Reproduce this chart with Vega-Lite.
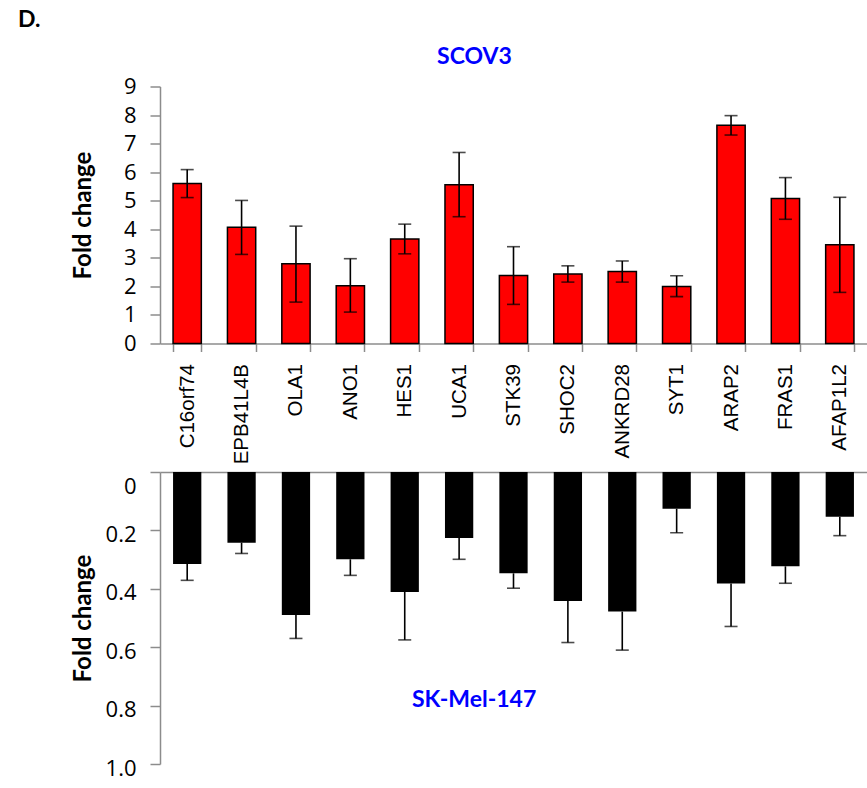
{
  "$schema": "https://vega.github.io/schema/vega-lite/v6.json",
  "background": "white",
  "padding": {"left": 18, "top": 8.5, "right": 0, "bottom": 0},
  "title": {"text": "D.", "anchor": "start", "frame": "bounds", "fontSize": 23, "font": "Lato", "fontWeight": "bold", "color": "black", "dx": -53, "offset": 14},
  "config": {"view": {"stroke": null}, "axis": {"grid": false, "domainColor": "#8c8c8c", "tickColor": "#8c8c8c", "domainWidth": 1.5, "tickWidth": 1.5}},
  "data": {"values": [
    {"gene": "C16orf74", "scov3": 5.60, "scov3_lo": 5.11, "scov3_hi": 6.09, "skmel": 0.315, "skmel_hi": 0.371},
    {"gene": "EPB41L4B", "scov3": 4.07, "scov3_lo": 3.12, "scov3_hi": 5.01, "skmel": 0.242, "skmel_hi": 0.279},
    {"gene": "OLA1", "scov3": 2.79, "scov3_lo": 1.45, "scov3_hi": 4.11, "skmel": 0.490, "skmel_hi": 0.570},
    {"gene": "ANO1", "scov3": 2.02, "scov3_lo": 1.10, "scov3_hi": 2.97, "skmel": 0.299, "skmel_hi": 0.354},
    {"gene": "HES1", "scov3": 3.66, "scov3_lo": 3.14, "scov3_hi": 4.18, "skmel": 0.411, "skmel_hi": 0.575},
    {"gene": "UCA1", "scov3": 5.56, "scov3_lo": 4.44, "scov3_hi": 6.69, "skmel": 0.226, "skmel_hi": 0.299},
    {"gene": "STK39", "scov3": 2.38, "scov3_lo": 1.37, "scov3_hi": 3.39, "skmel": 0.347, "skmel_hi": 0.398},
    {"gene": "SHOC2", "scov3": 2.43, "scov3_lo": 2.15, "scov3_hi": 2.72, "skmel": 0.442, "skmel_hi": 0.584},
    {"gene": "ANKRD28", "scov3": 2.52, "scov3_lo": 2.15, "scov3_hi": 2.89, "skmel": 0.478, "skmel_hi": 0.610},
    {"gene": "SYT1", "scov3": 2.00, "scov3_lo": 1.64, "scov3_hi": 2.37, "skmel": 0.126, "skmel_hi": 0.208},
    {"gene": "ARAP2", "scov3": 7.64, "scov3_lo": 7.30, "scov3_hi": 7.98, "skmel": 0.382, "skmel_hi": 0.529},
    {"gene": "FRAS1", "scov3": 5.08, "scov3_lo": 4.35, "scov3_hi": 5.81, "skmel": 0.323, "skmel_hi": 0.381},
    {"gene": "AFAP1L2", "scov3": 3.46, "scov3_lo": 1.79, "scov3_hi": 5.12, "skmel": 0.153, "skmel_hi": 0.218}
  ]},
  "spacing": 6.5,
  "vconcat": [
    {
      "width": 707,
      "height": 257,
      "title": {"text": "SCOV3", "color": "#0000ff", "font": "Lato", "fontSize": 23, "fontWeight": "bold", "dx": -39, "offset": 6.5},
      "encoding": {
        "x": {"field": "gene", "type": "nominal", "sort": null, "title": null,
          "scale": {"paddingInner": 0.48, "paddingOuter": 0.24},
          "axis": {"labelAngle": -90, "labelFont": "Liberation Sans", "labelFontSize": 20.5, "labelColor": "black", "tickBand": "extent", "tickSize": 8, "labelPadding": 12, "labelOverlap": false}}
      },
      "layer": [
        {"mark": {"type": "bar", "color": "#ff0000", "stroke": "black", "strokeWidth": 1.5},
         "encoding": {"y": {"field": "scov3", "type": "quantitative", "title": "Fold change",
           "scale": {"domain": [0, 9], "nice": false},
           "axis": {"values": [0,1,2,3,4,5,6,7,8,9], "tickCount": 10, "labelFont": "Open Sans", "labelFontSize": 22, "labelColor": "black", "labelOverlap": false, "tickSize": 10, "labelPadding": 14, "minExtent": 58, "maxExtent": 58, "titleFont": "Lato", "titleFontSize": 24, "titleFontWeight": "bold", "titleColor": "black", "titlePadding": 7}}}},
        {"mark": {"type": "rule", "color": "black", "strokeWidth": 1.6},
         "encoding": {"y": {"field": "scov3_lo", "type": "quantitative", "title": "Fold change"}, "y2": {"field": "scov3_hi"}}},
        {"mark": {"type": "tick", "color": "black", "size": 13, "thickness": 1.6},
         "encoding": {"y": {"field": "scov3_lo", "type": "quantitative", "title": "Fold change"}}},
        {"mark": {"type": "tick", "color": "black", "size": 13, "thickness": 1.6},
         "encoding": {"y": {"field": "scov3_hi", "type": "quantitative", "title": "Fold change"}}}
      ]
    },
    {
      "width": 707,
      "height": 292,
      "encoding": {
        "x": {"field": "gene", "type": "nominal", "sort": null, "title": null,
          "scale": {"paddingInner": 0.48, "paddingOuter": 0.24},
          "axis": {"orient": "top", "labels": false, "ticks": false}}
      },
      "layer": [
        {"mark": {"type": "bar", "color": "black"},
         "encoding": {"y": {"field": "skmel", "type": "quantitative", "title": "Fold change",
           "scale": {"domain": [0, 1], "nice": false, "reverse": true},
           "axis": {"values": [0, 0.2, 0.4, 0.6, 0.8, 1.0], "tickCount": 6, "labelExpr": "datum.value == 0 ? '0' : format(datum.value, '.1f')", "labelFont": "Open Sans", "labelFontSize": 22, "labelColor": "black", "labelOverlap": false, "labelOffset": {"condition": {"test": "datum.value == 0", "value": 14}, "value": 4}, "tickSize": 10, "labelPadding": 14, "minExtent": 58, "maxExtent": 58, "titleFont": "Lato", "titleFontSize": 24, "titleFontWeight": "bold", "titleColor": "black", "titlePadding": 7}}}},
        {"mark": {"type": "rule", "color": "black", "strokeWidth": 1.6},
         "encoding": {"y": {"field": "skmel", "type": "quantitative", "title": "Fold change"}, "y2": {"field": "skmel_hi"}}},
        {"mark": {"type": "tick", "color": "black", "size": 13, "thickness": 1.6},
         "encoding": {"y": {"field": "skmel_hi", "type": "quantitative", "title": "Fold change"}}},
        {"data": {"values": [{"label": "SK-Mel-147"}]},
         "mark": {"type": "text", "color": "#0000ff", "font": "Lato", "fontSize": 23, "fontWeight": "bold", "dx": 15},
         "encoding": {"x": {"datum": "UCA1"}, "y": {"datum": 0.78}, "text": {"field": "label"}}}
      ]
    }
  ]
}
